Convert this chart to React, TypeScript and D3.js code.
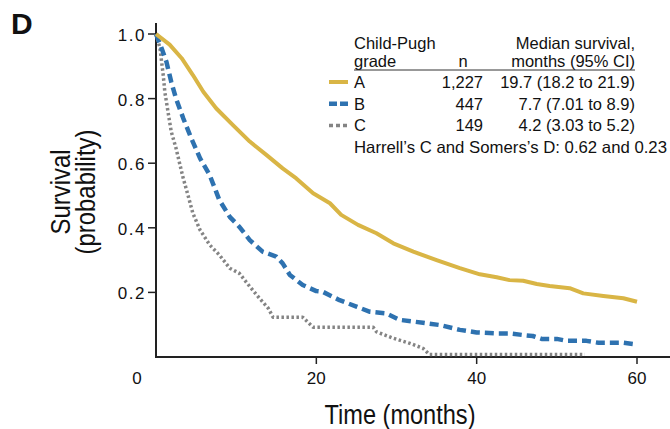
import React, { useRef, useEffect } from 'react';
import * as d3 from 'd3';

// Kaplan-Meier curves (time in months, survival probability)
const timeA = [0, 1.7, 3.2, 4.6, 5.9, 7.5, 9.6, 11.7, 13.8, 15.8, 17.5, 19.6, 21.7, 23.1, 25.2, 27.5, 29.6, 32.1, 35.0, 37.9, 40.4, 42.5, 44.1, 45.8, 47.5, 49.1, 51.6, 53.3, 55.8, 58.3, 60.0];
const survA = [1.0, 0.967, 0.925, 0.873, 0.821, 0.77, 0.718, 0.667, 0.625, 0.584, 0.553, 0.507, 0.476, 0.44, 0.409, 0.383, 0.352, 0.326, 0.3, 0.275, 0.256, 0.247, 0.238, 0.236, 0.226, 0.22, 0.213, 0.197, 0.189, 0.182, 0.171];

const timeB = [0, 0.7, 1.3, 1.9, 2.5, 3.4, 4.4, 5.5, 6.7, 7.5, 7.9, 9.2, 10.4, 11.7, 13.3, 15.0, 15.8, 16.7, 18.3, 20.0, 20.8, 22.9, 25.0, 26.7, 28.7, 30.4, 33.3, 35.4, 37.9, 40.0, 42.5, 44.1, 45.8, 47.0, 48.1, 50.0, 51.2, 53.7, 55.2, 58.3, 59.9];
const survB = [1.0, 0.956, 0.914, 0.852, 0.8, 0.739, 0.677, 0.615, 0.563, 0.512, 0.486, 0.434, 0.403, 0.362, 0.326, 0.311, 0.29, 0.254, 0.223, 0.204, 0.202, 0.176, 0.156, 0.14, 0.135, 0.115, 0.106, 0.099, 0.084, 0.076, 0.073, 0.073, 0.068, 0.065, 0.056, 0.056, 0.05, 0.05, 0.044, 0.044, 0.039];

const timeC = [0, 0.5, 0.7, 0.9, 1.1, 1.5, 1.9, 2.5, 3.0, 3.4, 4.0, 4.6, 5.5, 6.7, 7.9, 9.2, 10.4, 11.7, 12.9, 14.0, 14.6, 18.3, 19.6, 27.1, 27.5, 29.6, 31.7, 33.3, 34.1, 53.5];
const survC = [1.0, 0.956, 0.914, 0.873, 0.821, 0.759, 0.698, 0.646, 0.594, 0.553, 0.5, 0.445, 0.393, 0.347, 0.316, 0.275, 0.259, 0.218, 0.182, 0.151, 0.123, 0.123, 0.092, 0.092, 0.078, 0.058, 0.042, 0.027, 0.008, 0.008];

const xTicks = [20, 40, 60];
const yTicks = [0.2, 0.4, 0.6, 0.8, 1.0];

const grades = ['A', 'B', 'C'];
const counts = ['1,227', '447', '149'];
const medians = ['19.7 (18.2 to 21.9)', '7.7 (7.01 to 8.9)', '4.2 (3.03 to 5.2)'];
const colors = ['#d9b545', '#2e72b0', '#848484'];
const dashes = ['none', '9,5', '2.5,2.5'];
const widths = [4, 4.5, 3.5];

const App = () => {
  const d3Container = useRef(null);

  useEffect(() => {
    if (!d3Container.current) return;
    document.body.style.margin = '0';
    d3.select(d3Container.current).select('svg').remove();

    const width = 670;
    const height = 429;
    const svg = d3.select(d3Container.current)
      .append('svg')
      .attr('width', width)
      .attr('height', height)
      .style('display', 'block')
      .style('font-family', '"Liberation Sans", Arial, sans-serif');

    const x = d3.scaleLinear().domain([0, 60]).range([156, 637]);
    const y = d3.scaleLinear().domain([0, 1]).range([357, 34]);

    // axes
    const ax = svg.append('g').attr('stroke', '#222').attr('stroke-width', 2);
    ax.append('line').attr('x1', x(0)).attr('x2', x(0)).attr('y1', y(0) + 1).attr('y2', y(1.034));
    ax.append('line').attr('x1', x(0) - 1).attr('x2', 670).attr('y1', y(0)).attr('y2', y(0));
    ax.selectAll('.yt').data(yTicks).enter().append('line')
      .attr('x1', x(0) - 8).attr('x2', x(0)).attr('y1', d => y(d)).attr('y2', d => y(d))
      .attr('stroke-width', 1.5);
    ax.selectAll('.xt').data(xTicks).enter().append('line')
      .attr('x1', d => x(d)).attr('x2', d => x(d)).attr('y1', y(0)).attr('y2', y(0) + 7)
      .attr('stroke-width', 1.5);

    svg.selectAll('.ytl').data(yTicks).enter().append('text')
      .attr('x', x(0) - 10).attr('y', d => y(d) + 7)
      .attr('text-anchor', 'end').attr('font-size', 17).attr('letter-spacing', 1.5)
      .attr('fill', '#111')
      .text(d => d.toFixed(1));
    svg.selectAll('.xtl').data(xTicks).enter().append('text')
      .attr('x', d => x(d)).attr('y', 384)
      .attr('text-anchor', 'middle').attr('font-size', 17).attr('fill', '#111')
      .text(d => d);
    svg.append('text').attr('x', x(0) - 19).attr('y', 384)
      .attr('text-anchor', 'middle').attr('font-size', 17).attr('fill', '#111').text('0');

    // axis titles
    svg.append('text').attr('x', 400).attr('y', 424).attr('text-anchor', 'middle')
      .attr('font-size', 27).attr('fill', '#111')
      .attr('textLength', 151).attr('lengthAdjust', 'spacingAndGlyphs')
      .text('Time (months)');
    const yl = svg.append('g').attr('transform', 'translate(70,192) rotate(-90)');
    yl.append('text').attr('x', 0).attr('y', 0).attr('text-anchor', 'middle')
      .attr('font-size', 27).attr('fill', '#111')
      .attr('textLength', 85).attr('lengthAdjust', 'spacingAndGlyphs')
      .text('Survival');
    yl.append('text').attr('x', 0).attr('y', 25).attr('text-anchor', 'middle')
      .attr('font-size', 27).attr('fill', '#111')
      .attr('textLength', 125).attr('lengthAdjust', 'spacingAndGlyphs')
      .text('(probability)');

    svg.append('text').attr('x', 11).attr('y', 34).attr('font-size', 30)
      .attr('font-weight', 'bold').attr('fill', '#111').text('D');

    // curves
    const series = [
      timeA.map((t, i) => [t, survA[i]]),
      timeB.map((t, i) => [t, survB[i]]),
      timeC.map((t, i) => [t, survC[i]]),
    ];
    const line = d3.line().x(d => x(d[0])).y(d => y(d[1]));
    [2, 1, 0].forEach(i => {
      svg.append('path').attr('d', line(series[i]))
        .attr('fill', 'none').attr('stroke', colors[i]).attr('stroke-width', widths[i])
        .attr('stroke-dasharray', dashes[i]).attr('stroke-linejoin', 'round');
    });

    // legend
    const lg = svg.append('g').attr('font-size', 16.5).attr('fill', '#111');
    lg.append('text').attr('x', 354).attr('y', 49).text('Child-Pugh');
    lg.append('text').attr('x', 354).attr('y', 67).text('grade');
    lg.append('text').attr('x', 463).attr('y', 67).attr('text-anchor', 'middle').text('n');
    lg.append('text').attr('x', 635).attr('y', 49).attr('text-anchor', 'end').text('Median survival,');
    lg.append('text').attr('x', 635).attr('y', 67).attr('text-anchor', 'end').text('months (95% CI)');
    lg.append('line').attr('x1', 354).attr('x2', 635).attr('y1', 70).attr('y2', 70)
      .attr('stroke', '#333').attr('stroke-width', 1);
    grades.forEach((g, i) => {
      const yy = 88 + i * 21.7;
      lg.append('line').attr('x1', 329).attr('x2', 348).attr('y1', yy - 6).attr('y2', yy - 6)
        .attr('stroke', colors[i]).attr('stroke-width', widths[i])
        .attr('stroke-dasharray', i === 1 ? '8,3' : i === 2 ? '4,3' : 'none');
      lg.append('text').attr('x', 354).attr('y', yy).text(g);
      lg.append('text').attr('x', 483).attr('y', yy).attr('text-anchor', 'end').text(counts[i]);
      lg.append('text').attr('x', 635).attr('y', yy).attr('text-anchor', 'end').text(medians[i]);
    });
    lg.append('text').attr('x', 354).attr('y', 153)
      .attr('textLength', 313).attr('lengthAdjust', 'spacingAndGlyphs')
      .text('Harrell\u2019s C and Somers\u2019s D: 0.62 and 0.23');
  }, []);

  return <div className="chart-container" ref={d3Container}></div>;
};

export default App;
